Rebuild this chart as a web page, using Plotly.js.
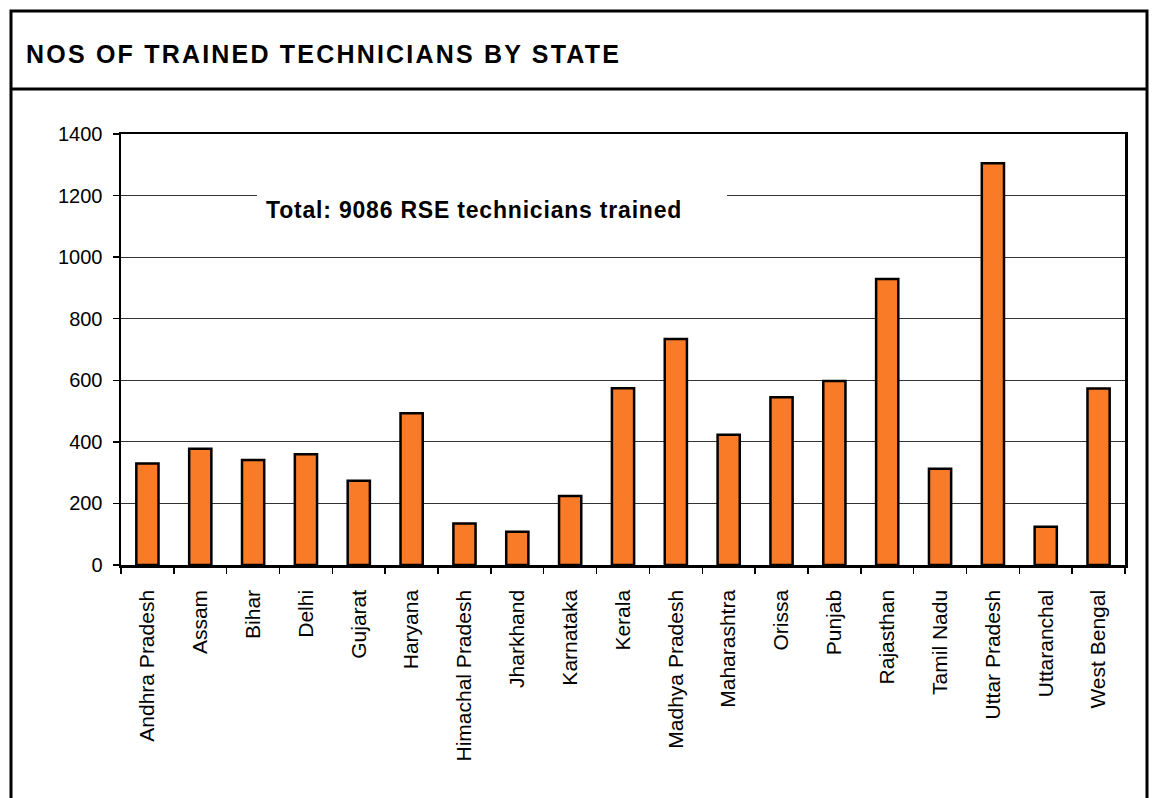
<!DOCTYPE html>
<html>
<head>
<meta charset="utf-8">
<script src="https://cdn.plot.ly/plotly-3.0.1.min.js"></script>
<style>
html,body{margin:0;padding:0;background:#fff;}
#chart{width:1154px;height:798px;}
.gtitle{letter-spacing:2.2px;}
.annotation-text{letter-spacing:0.8px;}
</style>
</head>
<body>
<div id="chart"></div>
<script>
const states = ["Andhra Pradesh","Assam","Bihar","Delhi","Gujarat","Haryana","Himachal Pradesh","Jharkhand","Karnataka","Kerala","Madhya Pradesh","Maharashtra","Orissa","Punjab","Rajasthan","Tamil Nadu","Uttar Pradesh","Uttaranchal","West Bengal"];
const technicians = [330,378,341,360,274,493,135,108,224,574,734,423,545,598,929,313,1305,124,573];
const yTicks = [0,200,400,600,800,1000,1200,1400];
const chartTitle = "NOS OF TRAINED TECHNICIANS BY STATE";
const noteText = "Total: 9086 RSE technicians trained";

const W = 1154, H = 798;
const L = 121, R = 1125, T = 134, B = 565;
const pw = R - L, ph = B - T;
const px = v => (v - L) / pw;
const py = v => (B - v) / ph;
const FONT = 'Liberation Sans, Arial, sans-serif';

const trace = {
  type: 'bar',
  x: states,
  y: technicians,
  marker: {color: '#F97B28', line: {color: '#000', width: 2.5}},
  hoverinfo: 'x+y'
};

const layout = {
  width: W, height: H,
  margin: {l: L, r: W - R, t: T, b: H - B, pad: 0},
  paper_bgcolor: '#fff', plot_bgcolor: '#fff',
  showlegend: false,
  bargap: 0.58,
  font: {family: FONT, color: '#000', size: 20},
  title: {
    text: '<b>' + chartTitle + '</b>',
    xref: 'container', yref: 'container',
    x: 26 / W, xanchor: 'left', y: 1 - 54 / H, yanchor: 'middle',
    font: {family: FONT, size: 25, color: '#000'}
  },
  xaxis: {
    type: 'category',
    tickangle: -90,
    ticks: 'outside', ticklen: 6, tickwidth: 1.5, tickcolor: '#000',
    tickson: 'boundaries',
    ticklabelstandoff: 14,
    showline: true, linecolor: '#000', linewidth: 2.5, mirror: true,
    showgrid: false, zeroline: false,
    tickfont: {size: 21, family: FONT, color: '#000'},
    fixedrange: true
  },
  yaxis: {
    range: [0, 1400],
    tickvals: yTicks,
    ticktext: yTicks.map(String),
    ticks: 'outside', ticklen: 6, tickwidth: 1.5, tickcolor: '#000',
    ticklabelstandoff: 6,
    showline: true, linecolor: '#000', linewidth: 2.5, mirror: true,
    showgrid: true, gridcolor: '#333', gridwidth: 1,
    zeroline: false,
    tickfont: {size: 20, family: FONT, color: '#000'},
    fixedrange: true
  },
  annotations: [{
    text: '<b>' + noteText + '</b>',
    xref: 'paper', yref: 'paper',
    x: px(264), y: py(210), xanchor: 'left', yanchor: 'middle',
    showarrow: false,
    font: {size: 23, family: FONT, color: '#000'}
  }],
  shapes: [
    {type: 'rect', xref: 'paper', yref: 'paper', x0: px(257), x1: px(727), y0: py(203), y1: py(189),
     line: {width: 0}, fillcolor: '#fff', layer: 'above'},
    {type: 'rect', xref: 'paper', yref: 'paper', x0: px(11), x1: px(1147), y0: py(810), y1: py(11),
     line: {color: '#000', width: 3}, fillcolor: 'rgba(0,0,0,0)', layer: 'above'},
    {type: 'line', xref: 'paper', yref: 'paper', x0: px(11), x1: px(1147), y0: py(89), y1: py(89),
     line: {color: '#000', width: 3}, layer: 'above'}
  ]
};

Plotly.newPlot('chart', [trace], layout, {displayModeBar: false, staticPlot: true});
</script>
</body>
</html>
